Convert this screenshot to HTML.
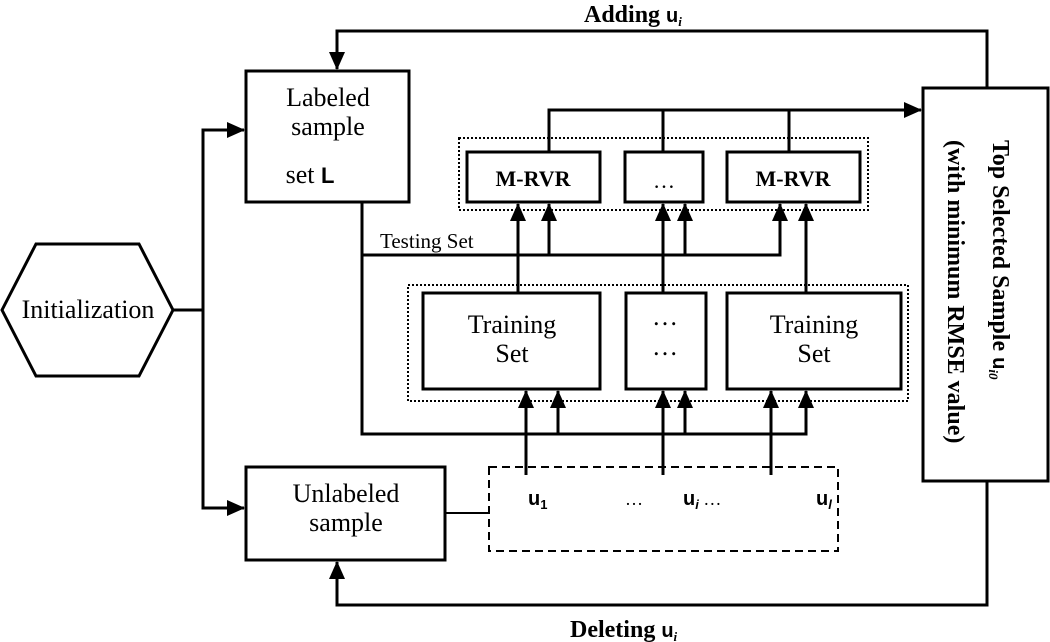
<!DOCTYPE html>
<html><head><meta charset="utf-8"><style>
html,body{margin:0;padding:0;background:#fff;}
svg{display:block;font-family:"Liberation Serif",serif;}
</style></head><body>
<svg width="1050" height="642" viewBox="0 0 1050 642" xmlns="http://www.w3.org/2000/svg">
<defs>
<marker id="a" markerWidth="10" markerHeight="10" refX="9" refY="5" orient="auto" markerUnits="userSpaceOnUse" viewBox="0 0 10 10">
<path d="M0,0 L10,5 L0,10 z" fill="#000"/></marker>
<marker id="b" markerWidth="18" markerHeight="16" refX="17" refY="8" orient="auto" markerUnits="userSpaceOnUse" viewBox="0 0 18 16">
<path d="M0,0 L18,8 L0,16 z" fill="#000"/></marker>
</defs>
<g fill="none" stroke="#000" stroke-width="3">
<!-- hexagon -->
<polygon points="2,310 36,244 139,244 173,310 139,376 36,376"/>
<!-- init connectors -->
<path d="M173,310 H203 V130 H244" marker-end="url(#b)"/>
<path d="M203,310 V508 H244" marker-end="url(#b)"/>
<!-- boxes -->
<rect x="246" y="71" width="163" height="131"/>
<rect x="246" y="467" width="199" height="93"/>
<rect x="923" y="88" width="125" height="393"/>
<rect x="467" y="152" width="133" height="50"/>
<rect x="625" y="152" width="78" height="50"/>
<rect x="727" y="152" width="133" height="50"/>
<rect x="423" y="293" width="177" height="96"/>
<rect x="626" y="293" width="80" height="96"/>
<rect x="727" y="293" width="174" height="96"/>
<!-- adding -->
<path d="M987,88 V31 H337 V69" marker-end="url(#b)"/>
<!-- deleting -->
<path d="M987,481 V605 H337 V562" marker-end="url(#b)"/>
<!-- top output line -->
<path d="M549,152 V110 H921" marker-end="url(#b)"/>
<path d="M663,152 V110 M789,152 V110"/>
<!-- testing set -->
<path d="M362,202 V434 H806 V391" marker-end="url(#b)"/>
<path d="M362,255 H780 V204" marker-end="url(#b)"/>
<path d="M549,255 V204" marker-end="url(#b)"/>
<path d="M685,255 V204" marker-end="url(#b)"/>
<!-- training to mrvr -->
<path d="M518,293 V204" marker-end="url(#b)"/>
<path d="M663,293 V204" marker-end="url(#b)"/>
<path d="M806,293 V204" marker-end="url(#b)"/>
<!-- bottom arrows into training -->
<path d="M558,434 V391" marker-end="url(#b)"/>
<path d="M685,434 V391" marker-end="url(#b)"/>
<path d="M526,475 V391" marker-end="url(#b)"/>
<path d="M663,475 V391" marker-end="url(#b)"/>
<path d="M771,475 V391" marker-end="url(#b)"/>
</g>
<g fill="none" stroke="#000">
<rect x="459" y="138" width="409" height="72" stroke-width="2" stroke-dasharray="2,2"/>
<rect x="408" y="285" width="500" height="116" stroke-width="2" stroke-dasharray="2,2"/>
<rect x="489" y="467" width="349" height="84" stroke-width="2" stroke-dasharray="8,5"/>
<path d="M445,513 H489" stroke-width="2"/>
</g>
<g fill="#000" font-size="26" text-anchor="middle">
<text x="88" y="318">Initialization</text>
<text x="328" y="106">Labeled</text>
<text x="328" y="135">sample</text>
<text x="310" y="183">set <tspan font-weight="bold" font-family="Liberation Sans,sans-serif" font-size="22">L</tspan></text>
<text x="346" y="502">Unlabeled</text>
<text x="346" y="531">sample</text>
<text x="512" y="333">Training</text>
<text x="512" y="362">Set</text>
<text x="814" y="333">Training</text>
<text x="814" y="362">Set</text>
<text x="665" y="325">…</text>
<text x="665" y="355">…</text>
<text x="664" y="188" font-size="22">…</text>
<text x="533" y="186" font-size="22" font-weight="bold">M-RVR</text>
<text x="793" y="186" font-size="22" font-weight="bold">M-RVR</text>
<text x="380" y="248" font-size="21" text-anchor="start">Testing Set</text>
<text x="584" y="22" font-size="24" font-weight="bold" text-anchor="start">Adding <tspan font-family="Liberation Sans,sans-serif" font-size="20">u</tspan><tspan font-size="13" dy="4" font-style="italic">i</tspan></text>
<text x="570" y="637" font-size="24" font-weight="bold" text-anchor="start">Deleting <tspan font-family="Liberation Sans,sans-serif" font-size="20">u</tspan><tspan font-size="13" dy="4" font-style="italic">i</tspan></text>
<g font-weight="bold" font-family="Liberation Sans,sans-serif" font-size="20" text-anchor="start">
<text x="528" y="505">u<tspan font-size="13" dy="4">1</tspan></text>
<text x="625" y="505" font-family="Liberation Serif,serif" font-size="18" font-weight="normal">…</text>
<text x="683" y="505">u<tspan font-size="13" dy="4" font-style="italic">i</tspan><tspan font-family="Liberation Serif,serif" font-size="18" font-weight="normal" dy="-4"> …</tspan></text>
<text x="816" y="505">u<tspan font-size="13" dy="4" font-style="italic">l</tspan></text>
</g>
<g font-weight="bold" font-size="24" text-anchor="start">
<text transform="translate(993,140) rotate(90)">Top Selected Sample <tspan font-family="Liberation Sans,sans-serif" font-size="20">u</tspan><tspan font-size="13" dy="4" font-style="italic">i0</tspan></text>
<text transform="translate(948,140) rotate(90)">(with minimum RMSE value)</text>
</g>
</g>
</svg>
</body></html>
